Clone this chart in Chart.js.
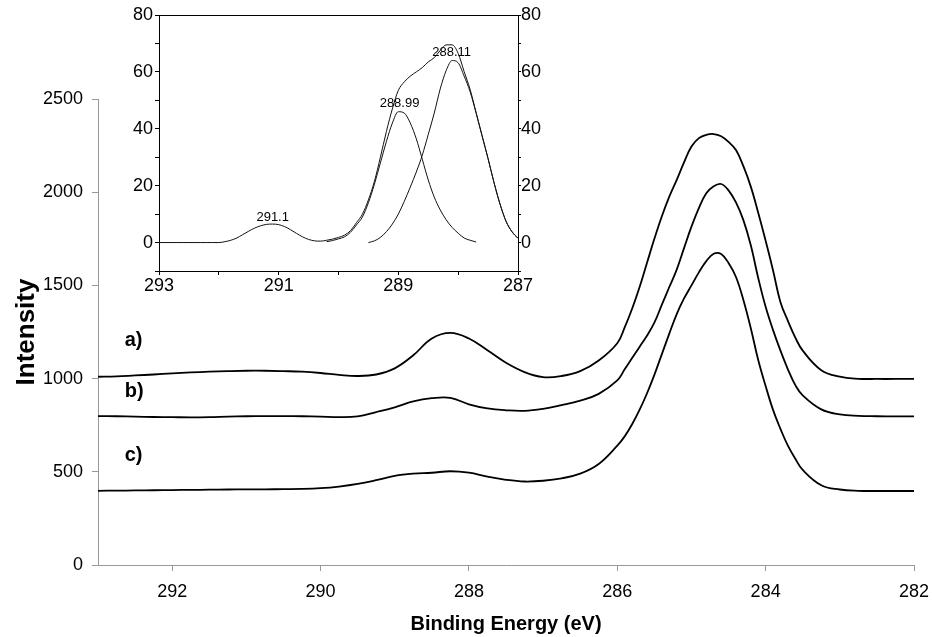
<!DOCTYPE html>
<html>
<head>
<meta charset="utf-8">
<script src="https://cdn.jsdelivr.net/npm/chart.js@4.4.1/dist/chart.umd.min.js"></script>
<style>
  body { margin: 0; background: #fff; }
  #wrap { position: relative; width: 932px; height: 637px; }
  #inset { position: absolute; left: 0; top: 0; }
</style>
</head>
<body>
<div id="wrap">
  <canvas id="main" width="932" height="637"></canvas>
  <canvas id="inset" width="560" height="300"></canvas>
</div>
<script>
// main spectrum, binding energy (eV)
var mainEnergy = [293, 292.75, 292.5, 292.25, 292, 291.75, 291.5, 291.25, 291, 290.75, 290.5, 290.25, 290, 289.75,
  289.5, 289.25, 289, 288.75, 288.5, 288.25, 288, 287.75, 287.5, 287.25, 287, 286.75, 286.5, 286.25,
  286, 285.9, 285.8, 285.7, 285.6, 285.5, 285.4, 285.3, 285.2, 285.1, 285, 284.9, 284.8, 284.7, 284.6,
  284.5, 284.4, 284.3, 284.2, 284.1, 284, 283.9, 283.8, 283.7, 283.6, 283.5,
  283.25, 283, 282.75, 282.5, 282.25, 282];
var curveA = [1010, 1012, 1017, 1022, 1028, 1033, 1037, 1040, 1042, 1042, 1040, 1037, 1030, 1020,
  1014, 1022, 1055, 1125, 1215, 1245, 1215, 1152, 1085, 1035, 1008, 1014, 1040, 1097,
  1190, 1275, 1375, 1490, 1620, 1750, 1870, 1975, 2065, 2160, 2245, 2290, 2308, 2312, 2300,
  2270, 2226, 2140, 2030, 1890, 1740, 1580, 1410, 1310, 1220, 1150,
  1045, 1010, 999, 998, 998, 998];
var curveB = [799, 798, 796, 794, 793, 792, 793, 796, 798, 799, 799, 798, 796, 793,
  797, 820, 846, 878, 895, 897, 862, 840, 830, 827, 838, 858, 882, 918,
  990, 1050, 1110, 1170, 1230, 1300, 1395, 1490, 1583, 1700, 1815, 1915, 1994, 2032, 2044,
  2010, 1945, 1850, 1715, 1540, 1385, 1260, 1150, 1050, 965, 910,
  835, 808, 800, 798, 797, 797];
var curveC = [398, 399, 400, 401, 402, 403, 404, 405, 406, 406, 407, 408, 412, 421,
  435, 455, 478, 490, 495, 503, 495, 474, 457, 448, 452, 465, 490, 542,
  640, 690, 755, 832, 920, 1020, 1130, 1240, 1345, 1430, 1500, 1570, 1630, 1670, 1668,
  1620, 1545, 1422, 1270, 1100, 960, 832, 730, 640, 570, 510,
  428, 405, 398, 397, 397, 397];
var curveNames = ['a)', 'b)', 'c)'];
var nameEnergy = [292.64, 292.64, 292.64];
var nameLevel = [1202, 933, 585];
var mainYTicks = [0, 500, 1000, 1500, 2000, 2500];

// inset: C 1s fit
var insetEnergy = [293, 292.9, 292.8, 292.7, 292.6, 292.5, 292.4, 292.3, 292.2, 292.1, 292,
  291.9, 291.8, 291.7, 291.6, 291.5, 291.4, 291.3, 291.2, 291.1, 291,
  290.9, 290.8, 290.7, 290.6, 290.5, 290.4, 290.3, 290.2, 290.1, 290,
  289.9, 289.8, 289.7, 289.6, 289.5, 289.4, 289.3, 289.2, 289.1, 289,
  288.9, 288.8, 288.7, 288.6, 288.5, 288.4, 288.3, 288.2, 288.1, 288,
  287.9, 287.8, 287.7, 287.6, 287.5, 287.4, 287.3, 287.2, 287.1, 287];
var envelope = [0, 0, 0, 0, 0, 0, 0, 0, 0, 0, 0,
  0.3, 0.8, 1.6, 2.8, 4.0, 5.1, 5.9, 6.4, 6.5, 6.3,
  5.6, 4.5, 3.2, 2.0, 1.1, 0.6, 0.5, 0.8, 1.2, 1.8,
  2.6, 4.2, 7.0, 10.0, 15.0, 21.5, 30.0, 39.0, 47.0, 53.5,
  56.5, 58.5, 60.0, 61.5, 63.5, 65.0, 67.5, 69.5, 69.5, 66.5,
  60.1, 53.8, 45.7, 37.5, 29.5, 21.0, 13.5, 7.5, 3.8, 1.5];
var peak2Energy = [290.2, 290.1, 290, 289.9, 289.8, 289.7, 289.6, 289.5, 289.4, 289.3,
  289.2, 289.1, 289, 288.9, 288.8, 288.7, 288.6, 288.5, 288.4, 288.3,
  288.2, 288.1, 288, 287.9, 287.8, 287.7];
var peak2 = [0.3, 0.7, 1.3, 2.0, 3.6, 6.2, 9.0, 14.0, 20.5, 28.0,
  35.5, 42.0, 46.0, 45.5, 42.0, 36.5, 29.3, 22.0, 16.0, 11.5,
  8.0, 5.3, 3.3, 1.6, 0.8, 0.2];
var peak3Energy = [289.5, 289.4, 289.3, 289.2, 289.1, 289, 288.9, 288.8, 288.7, 288.6,
  288.5, 288.4, 288.3, 288.2, 288.1, 288, 287.9, 287.8, 287.7, 287.6,
  287.5, 287.4, 287.3, 287.2, 287.1, 287];
var peak3 = [0, 0.6, 1.8, 3.8, 6.5, 10.0, 14.5, 19.5, 24.8, 30.7,
  38.0, 45.5, 54.0, 60.5, 64.0, 63.2, 58.5, 53.0, 45.5, 37.5,
  29.5, 21.0, 13.5, 7.5, 3.8, 1.5];
var peakLabels = ['291.1', '288.99', '288.11'];
var peakLabelEnergy = [291.1, 288.98, 288.11];
var peakLabelLevel = [8.8, 48.8, 66.9];

var FONT = 'Liberation Sans, Arial, sans-serif';

function pts(xs, ys) {
  return xs.map(function(x, i) { return {x: x, y: ys[i]}; });
}

// draws text labels at data positions
function textPlugin(id, texts, xs, ys, font, align) {
  return {
    id: id,
    afterDatasetsDraw: function(chart) {
      var ctx = chart.ctx;
      ctx.save();
      ctx.fillStyle = '#000';
      ctx.font = font;
      ctx.textAlign = align;
      ctx.textBaseline = 'middle';
      for (var i = 0; i < texts.length; i++) {
        ctx.fillText(texts[i], chart.scales.x.getPixelForValue(xs[i]), chart.scales.y.getPixelForValue(ys[i]));
      }
      ctx.restore();
    }
  };
}

var lineStyle = {
  borderColor: '#000',
  borderWidth: 1.8,
  pointRadius: 0,
  fill: false,
  tension: 0.4
};

var mainChart = new Chart(document.getElementById('main'), {
  type: 'line',
  data: {
    datasets: [
      Object.assign({label: 'a', data: pts(mainEnergy, curveA)}, lineStyle),
      Object.assign({label: 'b', data: pts(mainEnergy, curveB)}, lineStyle),
      Object.assign({label: 'c', data: pts(mainEnergy, curveC)}, lineStyle)
    ]
  },
  options: {
    responsive: false,
    animation: false,
    layout: {padding: {top: 99, right: 18, left: 0, bottom: 0}},
    plugins: {legend: {display: false}, tooltip: {enabled: false}},
    scales: {
      x: {
        type: 'linear', reverse: true, min: 282, max: 293,
        afterFit: function(s) { s.height = 72; s.paddingLeft = 0; s.paddingRight = 0; },
        ticks: {stepSize: 2, includeBounds: false, color: '#000', font: {family: FONT, size: 18}, padding: 10, maxRotation: 0},
        grid: {drawOnChartArea: false, tickLength: 6, color: '#999'},
        border: {color: '#999'},
        title: {display: true, text: 'Binding Energy (eV)', color: '#000', font: {family: FONT, size: 20, weight: 'bold'}, padding: {top: 0, bottom: 1}}
      },
      y: {
        min: 0, max: 2500,
        afterFit: function(s) { s.width = 98; s.paddingTop = 0; s.paddingBottom = 0; },
        afterBuildTicks: function(s) { s.ticks = mainYTicks.map(function(v) { return {value: v}; }); },
        ticks: {color: '#000', font: {family: FONT, size: 18}, padding: 9,
          callback: function(v) { return String(v); }},
        grid: {drawOnChartArea: false, tickLength: 6, color: '#999'},
        border: {color: '#999'},
        title: {display: true, text: 'Intensity', color: '#000', font: {family: FONT, size: 26, weight: 'bold'}, padding: {top: 11, bottom: 0}}
      }
    }
  },
  plugins: [textPlugin('curveNames', curveNames, nameEnergy, nameLevel, 'bold 20px ' + FONT, 'left')]
});

var thin = {borderColor: '#111', borderWidth: 1, pointRadius: 0, fill: false, cubicInterpolationMode: 'monotone'};

var insetChart = new Chart(document.getElementById('inset'), {
  type: 'line',
  data: {
    datasets: [
      Object.assign({label: 'envelope', data: pts(insetEnergy, envelope)}, thin),
      Object.assign({label: '288.99', data: pts(peak2Energy, peak2)}, thin),
      Object.assign({label: '288.11', data: pts(peak3Energy, peak3)}, thin)
    ]
  },
  options: {
    responsive: false,
    animation: false,
    layout: {padding: {top: 15, right: 0, left: 0, bottom: 0}},
    plugins: {legend: {display: false}, tooltip: {enabled: false}},
    scales: {
      x: {
        type: 'linear', reverse: true, min: 287, max: 293,
        afterFit: function(s) { s.height = 29; },
        ticks: {stepSize: 1, autoSkip: false, maxRotation: 0, color: '#000', font: {family: FONT, size: 18}, padding: 0,
          callback: function(v) { return Math.round(v) % 2 === 1 ? v : ''; }},
        grid: {drawOnChartArea: false, tickLength: 4, color: '#000'},
        border: {color: '#000'}
      },
      xTop: {
        type: 'linear', position: 'top', reverse: true, min: 287, max: 293,
        afterFit: function(s) { s.height = 0; },
        ticks: {display: false},
        grid: {drawOnChartArea: false, drawTicks: false},
        border: {color: '#000'}
      },
      y: {
        min: -10, max: 80,
        afterFit: function(s) { s.width = 159; },
        ticks: {stepSize: 10, autoSkip: false, color: '#000', font: {family: FONT, size: 18}, padding: 2,
          callback: function(v) { return v >= 0 && Math.round(v) % 20 === 0 ? v : ''; }},
        grid: {drawOnChartArea: false, tickLength: 4, color: '#000'},
        border: {color: '#000'}
      },
      y2: {
        position: 'right', min: -10, max: 80,
        afterFit: function(s) { s.width = 42; },
        ticks: {stepSize: 10, autoSkip: false, color: '#000', font: {family: FONT, size: 18}, padding: 0,
          callback: function(v) { return v >= 0 && Math.round(v) % 20 === 0 ? v : ''; }},
        grid: {drawOnChartArea: false, tickLength: 3, color: '#000'},
        border: {color: '#000'}
      }
    }
  },
  plugins: [textPlugin('peakLabels', peakLabels, peakLabelEnergy, peakLabelLevel, '13px ' + FONT, 'center')]
});
</script>
</body>
</html>
